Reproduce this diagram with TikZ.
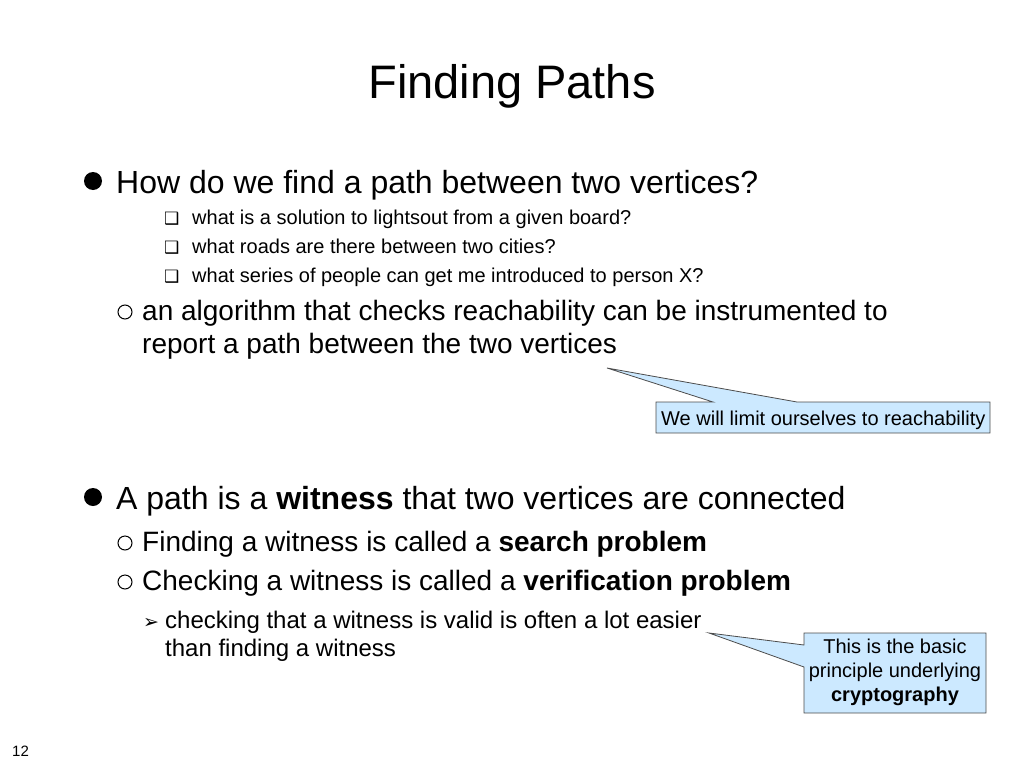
\documentclass[tikz,border=0pt]{standalone}
\usepackage{fontspec}
\setmainfont{Liberation Sans}
\newfontfamily\dv{DejaVu Sans}
\definecolor{callfill}{HTML}{CCE9FF}
\begin{document}
\begin{tikzpicture}[x=1pt,y=-1pt,
  t/.style={anchor=base west,inner sep=0pt},
  ocirc/.style={draw,line width=1pt},
  callout/.style={draw=black!70,fill=callfill,line width=0.8pt}]
\useasboundingbox (0,0) rectangle (1024,768);
\node[anchor=base,inner sep=0pt,font=\fontsize{47}{56}\selectfont] (title) at (512,98) {Finding Paths};
% bullet 1
\fill (93,181) circle (9) coordinate (b1);
\node[t,font=\fontsize{32}{38}\selectfont] (l1) at (116,193) {How do we find a path between two vertices?};
\begin{scope}[font=\fontsize{20}{24}\selectfont]
\node[t] (s1b) at (164,224) {\dv\fontsize{17}{20}\selectfont ❑};
\node[t] (s1) at (192,224) {what is a solution to lightsout from a given board?};
\node[t] (s2b) at (164,253) {\dv\fontsize{17}{20}\selectfont ❑};
\node[t] (s2) at (192,253) {what roads are there between two cities?};
\node[t] (s3b) at (164,282) {\dv\fontsize{17}{20}\selectfont ❑};
\node[t] (s3) at (192,282) {what series of people can get me introduced to person X?};
\end{scope}
\begin{scope}[font=\fontsize{28}{34}\selectfont]
\draw[ocirc] (125,312) circle (7) coordinate (o1);
\node[t] (a1) at (142,320) {an algorithm that checks reachability can be instrumented to};
\node[t] (a2) at (142,353) {report a path between the two vertices};
\end{scope}
% callout 1
\coordinate (p1) at (607,368);
\draw[callout] (656,402) -- (713,402) -- (p1) -- (797,402) -- (990,402) -- (990,433) -- (656,433) -- cycle;
\node[t,font=\fontsize{20}{24}\selectfont] (c1t) at (661,425) {We will limit ourselves to reachability};
% bullet 2
\fill (93,497) circle (9) coordinate (b2);
\node[t,font=\fontsize{32}{38}\selectfont] (l2) at (116,509) {A path is a \textbf{witness} that two vertices are connected};
\begin{scope}[font=\fontsize{28}{34}\selectfont]
\draw[ocirc] (125,543) circle (7) coordinate (o2);
\node[t] (f1) at (142,551) {Finding a witness is called a \textbf{search problem}};
\draw[ocirc] (125,582) circle (7) coordinate (o3);
\node[t] (f2) at (142,590) {Checking a witness is called a \textbf{verification problem}};
\end{scope}
\begin{scope}[font=\fontsize{24}{28}\selectfont]
\node[t] (ar) at (143,628) {\dv\fontsize{19}{22}\selectfont ➢};
\node[t] (g1) at (165,628) {checking that a witness is valid is often a lot easier};
\node[t] (g2) at (165,656) {than finding a witness};
\end{scope}
% callout 2
\coordinate (p2) at (709,633);
\draw[callout] (804,633) -- (986,633) -- (986,713) -- (804,713) -- (804,667) -- (p2) -- (804,645) -- cycle;
\node[align=center,inner sep=0pt,font=\fontsize{20}{24}\selectfont] (c2) at (895,672) {This is the basic\\principle underlying\\\textbf{cryptography}};
\node[t,font=\fontsize{15}{18}\selectfont] (pg) at (12,756) {12};
\end{tikzpicture}
\end{document}
